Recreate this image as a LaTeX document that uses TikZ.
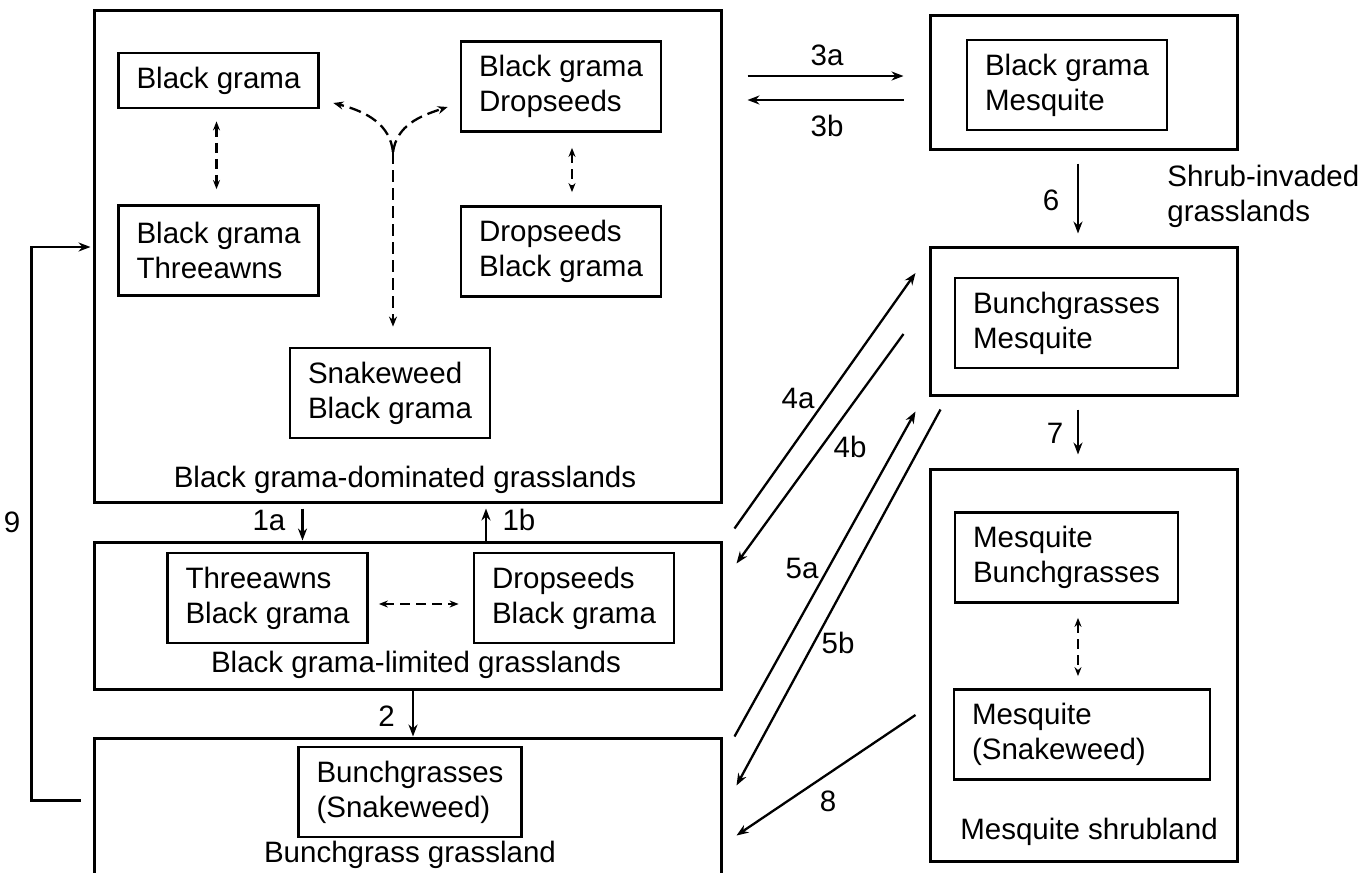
\documentclass[tikz,border=0pt]{standalone}
\usepackage{fontspec}
\setmainfont{Liberation Sans}
\usetikzlibrary{positioning,calc,arrows.meta}

\tikzset{
  zone/.style={draw, line width=1.5pt, inner sep=0pt},
  community/.style={draw, line width=1.4pt, align=left, inner xsep=9pt, inner ysep=0pt, minimum height=45pt},
  zonelabel/.style={inner sep=0pt},
  num/.style={inner sep=0pt},
  flow/.style={line width=1.15pt, -{Stealth[length=6pt,width=4.5pt]}},
  swing/.style={line width=1.15pt, dash pattern=on 5pt off 3pt, {Stealth[length=4.5pt,width=3.5pt]}-{Stealth[length=4.5pt,width=3.5pt]}},
  drift/.style={line width=1.15pt, dash pattern=on 6pt off 3pt, -{Stealth[length=5pt,width=4pt]}}
}

\begin{document}
\begin{tikzpicture}[x=0.5pt, y=-0.5pt, every node/.style={font=\fontsize{14.75pt}{17.5pt}\selectfont}]
  \useasboundingbox (0,0) rectangle (1367,873);
  \clip (0,0) rectangle (1367,873);

  % grassland states
  \node[zone, minimum width=313.5pt, minimum height=246pt] (grama) at (407.5,256) {};
  \node[zone, minimum width=313.5pt, minimum height=73.5pt] (limited) at (407.5,615.5) {};
  \node[zone, minimum width=313.5pt, minimum height=81pt] (bunch) at (407.5,819) {};
  \node[zone, minimum width=153.5pt, minimum height=67pt] (invA) at (1083.5,82) {};
  \node[zone, minimum width=153.5pt, minimum height=74pt] (invB) at (1083.5,321) {};
  \node[zone, minimum width=153.5pt, minimum height=196pt] (shrub) at (1083.5,665) {};

  % plant communities
  \node[community, minimum height=27.5pt] (bg) at (218.5,80.5) {Black grama};
  \node[community] (bgds) at (561,86.5) {Black grama\\Dropseeds};
  \node[community] (bgta) at (218.5,250.5) {Black grama\\Threeawns};
  \node[community] (dsbg) at (561,251.5) {Dropseeds\\Black grama};
  \node[community] (swbg) at (390,393) {Snakeweed\\Black grama};
  \node[community] (tabg) at (267.5,598) {Threeawns\\Black grama};
  \node[community] (dsbg2) at (574,598) {Dropseeds\\Black grama};
  \node[community] (bcsw) at (410,792) {Bunchgrasses\\(Snakeweed)};
  \node[community] (bgmq) at (1067,85) {Black grama\\Mesquite};
  \node[community] (bcmq) at (1066.5,323) {Bunchgrasses\\Mesquite};
  \node[community] (mqbc) at (1066.5,557.5) {Mesquite\\Bunchgrasses};
  \node[community, text width=110pt] (mqsw) at (1082,734.5) {Mesquite\\(Snakeweed)};

  \node[zonelabel] (gramalab) at (405,480) {Black grama-dominated grasslands};
  \node[zonelabel] (limitedlab) at (416,665) {Black grama-limited grasslands};
  \node[zonelabel] (bunchlab) at (410,855) {Bunchgrass grassland};
  \node[zonelabel] (shrublab) at (1089,832) {Mesquite shrubland};
  \node[zonelabel, anchor=west, align=left] (invlab) at (1167,196) {Shrub-invaded\\grasslands};

  % shifts inside states
  \draw[swing] ($(bg.south)+(-1pt,-6pt)$) -- ($(bgta.north)+(-1pt,7.5pt)$);
  \draw[swing] ($(bgds.south)+(5.5pt,-7.5pt)$) -- ($(dsbg.north)+(5.5pt,6.5pt)$);
  \coordinate (fork) at (393,152);
  \draw[drift] (fork) .. controls (390,125) and (368,112) .. ($(bg.east)+(6.75pt,-11.25pt)$);
  \draw[drift] (fork) .. controls (397,125) and (420,116) .. ($(bgds.west)+(-6pt,-10.25pt)$);
  \draw[drift] (fork) -- ($(swbg.north)+(1.5pt,10pt)$);
  \draw[swing] ($(tabg.east)+(5pt,-3pt)$) -- ($(dsbg2.west)+(-7pt,-3pt)$);
  \draw[swing] ($(mqbc.south)+(5.75pt,-7pt)$) -- ($(mqsw.north)+(-2pt,6pt)$);

  % transitions
  \draw[flow] ($(grama.south)+(-52.5pt,-2.5pt)$) -- ($(limited.north)+(-52.5pt,0)$);
  \draw[flow] ($(limited.north)+(39.25pt,0)$) -- ($(grama.south)+(39.25pt,-2.5pt)$);
  \draw[flow] ($(limited.south)+(2.75pt,0)$) -- ($(bunch.north)+(2.75pt,0)$);
  \draw[flow] ($(grama.east |- invA.west)+(12.5pt,3pt)$) -- ($(invA.west)+(-12.5pt,3pt)$);
  \draw[flow] ($(invA.west)+(-12.5pt,-9pt)$) -- ($(grama.east |- invA.west)+(12.5pt,-9pt)$);
  \draw[flow] ($(invA.south)+(-2.75pt,-6.5pt)$) -- ($(invB.north)+(-2.75pt,6pt)$);
  \draw[flow] ($(invB.south)+(-2.75pt,-6.5pt)$) -- ($(shrub.north)+(-2.75pt,6.5pt)$);
  \draw[flow] ($(limited.north east)+(6pt,6pt)$) -- ($(invB.west)+(-6.5pt,24pt)$);
  \draw[flow] ($(invB.west)+(-12.5pt,-6.5pt)$) -- ($(limited.north east)+(7pt,-11.5pt)$);
  \draw[flow] ($(bunch.north east)+(6pt,0)$) -- ($(invB.south west)+(-6.5pt,-7.5pt)$);
  \draw[flow] ($(invB.south west)+(6pt,-6.5pt)$) -- ($(bunch.north east)+(7pt,-24.5pt)$);
  \draw[flow] ($(shrub.west)+(-6.5pt,-25pt)$) -- ($(bunch.north east)+(7pt,-49.5pt)$);
  \draw[flow] ($(bunch.north west)+(-6pt,-32pt)$) -- ++(-24.5pt,0) |- ($(grama.west)+(-1pt,4.5pt)$);

  \node[num] (n1a) at (269,520) {1a};
  \node[num] (n1b) at (519,520) {1b};
  \node[num] (n2) at (386.5,716) {2};
  \node[num] (n3a) at (827,55) {3a};
  \node[num] (n3b) at (827,126) {3b};
  \node[num] (n4a) at (798,398) {4a};
  \node[num] (n4b) at (850,447) {4b};
  \node[num] (n5a) at (802,568) {5a};
  \node[num] (n5b) at (838,643) {5b};
  \node[num] (n6) at (1051,200) {6};
  \node[num] (n7) at (1055,433) {7};
  \node[num] (n8) at (828,801) {8};
  \node[num] (n9) at (12,522) {9};
\end{tikzpicture}
\end{document}
